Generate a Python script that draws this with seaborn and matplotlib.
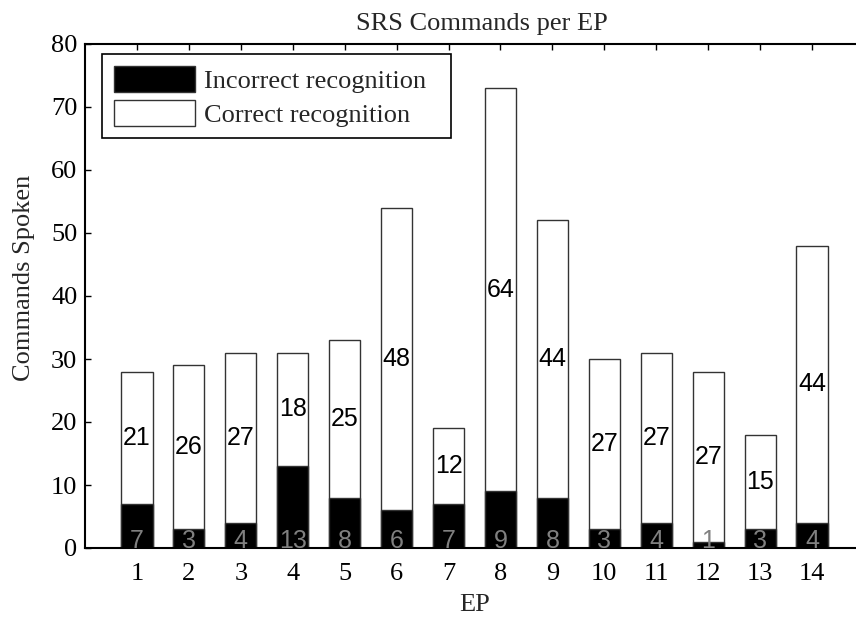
import matplotlib
matplotlib.use("Agg")
import matplotlib.pyplot as plt
import pandas as pd
import seaborn as sns

# data
ep = [1, 2, 3, 4, 5, 6, 7, 8, 9, 10, 11, 12, 13, 14]
incorrect = [7, 3, 4, 13, 8, 6, 7, 9, 8, 3, 4, 1, 3, 4]
correct = [21, 26, 27, 18, 25, 48, 12, 64, 44, 27, 27, 27, 15, 44]

df = pd.DataFrame({"EP": ep, "Incorrect": incorrect, "Correct": correct})
df["Total"] = df["Incorrect"] + df["Correct"]

sns.set_style("white")
plt.rcParams["font.family"] = ["Liberation Serif", "DejaVu Serif"]
plt.rcParams["font.size"] = 19

fig = plt.figure(figsize=(8.56, 6.17), dpi=100)
W, H = 856, 617
# axes box in pixels: left 85, right 864 (cropped by figure), top 44, bottom 548
ax = fig.add_axes([85 / W, (H - 548) / H, (864 - 85) / W, (548 - 44) / H])

sns.barplot(data=df, x="EP", y="Total", native_scale=True, width=0.6,
            color="white", saturation=1, edgecolor="0.2", linewidth=1,
            label="Correct recognition  ", ax=ax)
sns.barplot(data=df, x="EP", y="Incorrect", native_scale=True, width=0.6,
            color="black", saturation=1, edgecolor="0.2", linewidth=1,
            label="Incorrect recognition  ", ax=ax)

# numbers inside the bars
for _, row in df.iterrows():
    mid = (row["Incorrect"] + row["Total"]) / 2
    ax.text(row["EP"], mid, f"{row['Correct']}", ha="center", va="center",
            fontsize=18, family=["Liberation Sans", "DejaVu Sans"], color="black")
    ax.text(row["EP"], 0, f"{row['Incorrect']}", ha="center", va="baseline",
            fontsize=18, family=["Liberation Sans", "DejaVu Sans"], color="0.5")

ax.set_xlim(0, 15)
ax.set_ylim(0, 80)
ax.set_xticks(ep)
ax.set_xticklabels([str(e) for e in ep])
ax.set_yticks(range(0, 81, 10))

for side in ["left", "bottom", "top", "right"]:
    ax.spines[side].set_visible(True)
    ax.spines[side].set_color("black")
    ax.spines[side].set_linewidth(1.5)

ax.tick_params(axis="x", direction="in", length=4, width=1, top=True,
               bottom=True, pad=11, colors="black")
ax.tick_params(axis="y", direction="in", length=4, width=1, left=True,
               right=True, pad=5.5, colors="black")

ax.set_title("SRS Commands per EP", fontsize=19, pad=10, x=0.51)
ax.set_xlabel("EP", labelpad=6)
ax.set_ylabel("Commands Spoken")
ax.yaxis.set_label_coords(-0.064, 0.536)

handles, labels = ax.get_legend_handles_labels()
leg = ax.legend(handles[::-1], labels[::-1], loc="upper left",
                bbox_to_anchor=(0.0218, 0.980), borderaxespad=0,
                fancybox=False, edgecolor="black", framealpha=1,
                handlelength=3.07, handleheight=1.15, labelspacing=0.25,
                borderpad=0.45, handletextpad=0.35)
leg.get_frame().set_linewidth(1.2)

fig.savefig("out.png", dpi=100)
